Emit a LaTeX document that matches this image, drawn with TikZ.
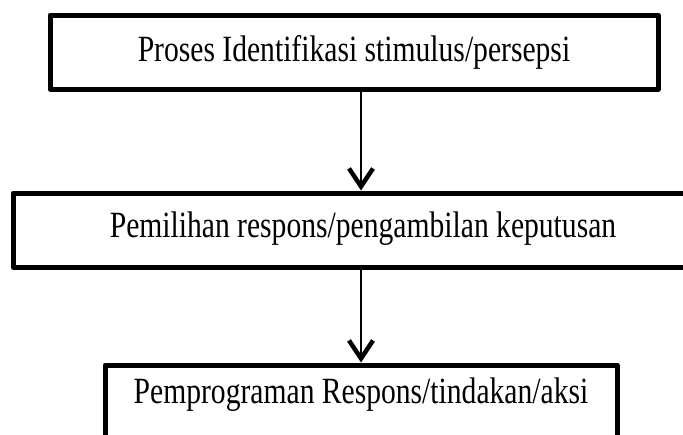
\documentclass[tikz,border=0pt]{standalone}
\usepackage{fontspec}
\setmainfont{Liberation Serif}
\newfontfamily\stagefont{Liberation Serif}[FakeStretch=0.80]
\usetikzlibrary{arrows.meta}

\begin{document}
\begin{tikzpicture}[x=1pt, y=-1pt,
                stagebox/.style={rectangle, draw=black, line width=5pt, line join=round, inner xsep=0pt, inner ysep=0pt, anchor=base, font=\stagefont\fontsize{37}{44}\selectfont},
                flowarrow/.style={line width=2pt, -{Straight Barb[length=18pt, width=24pt, line width=4.5pt]}},
                ]

                \useasboundingbox (0,0) rectangle (683,434);

                \node[stagebox, minimum width=608pt, text height=46pt, text depth=28pt] (identify) at (354,61) {Proses Identifikasi stimulus/persepsi};
                \node[stagebox, minimum width=700pt, text height=44pt, text depth=30pt] (select) at (363,237) {Pemilihan respons/pengambilan keputusan};
                \node[stagebox, minimum width=512pt, text height=38pt, text depth=61pt] (program) at (361,403) {Pemprograman Respons/tindakan/aksi};

                \draw[flowarrow] (identify.south -| program.north) -- (select.north -| program.north);
                \draw[flowarrow] (select.south -| program.north) -- (program.north);
            \end{tikzpicture}
\end{document}
